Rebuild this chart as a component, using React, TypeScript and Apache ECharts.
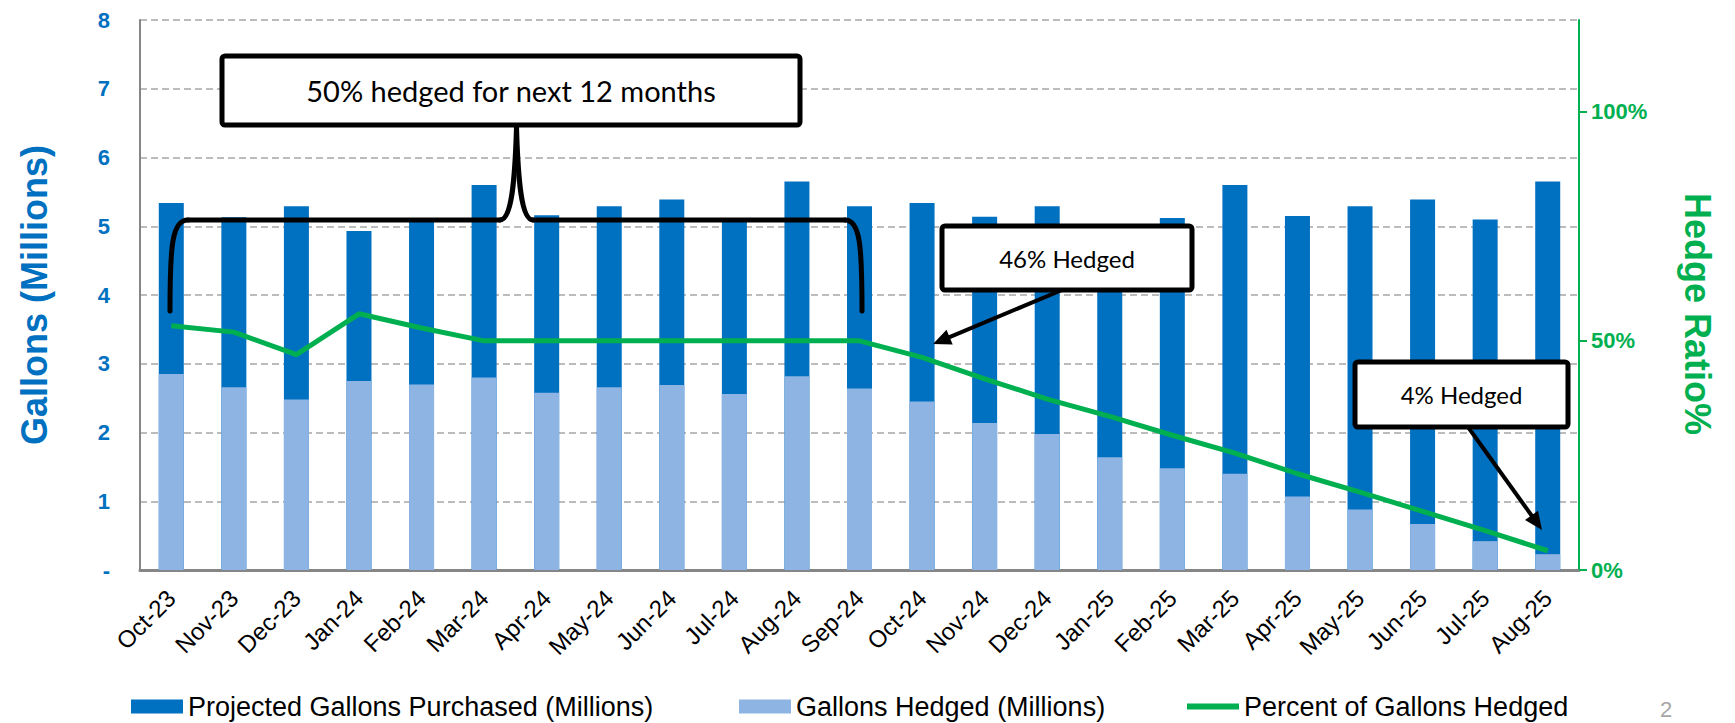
import { useEffect, useRef } from 'react';
import * as echarts from 'echarts';

const categories = [
  'Oct-23', 'Nov-23', 'Dec-23', 'Jan-24', 'Feb-24', 'Mar-24', 'Apr-24', 'May-24', 'Jun-24', 'Jul-24', 'Aug-24', 'Sep-24',
  'Oct-24', 'Nov-24', 'Dec-24', 'Jan-25', 'Feb-25', 'Mar-25', 'Apr-25', 'May-25', 'Jun-25', 'Jul-25', 'Aug-25',
];
const projectedGallons = [
  5.34, 5.13, 5.29, 4.93, 5.12, 5.6, 5.16, 5.29, 5.39, 5.1, 5.65, 5.29,
  5.34, 5.14, 5.29, 4.93, 5.12, 5.6, 5.15, 5.29, 5.39, 5.1, 5.65,
];
const hedgedGallons = [
  2.85, 2.66, 2.48, 2.75, 2.7, 2.8, 2.58, 2.66, 2.69, 2.56, 2.82, 2.64,
  2.45, 2.14, 1.98, 1.64, 1.48, 1.4, 1.07, 0.88, 0.67, 0.42, 0.23,
];
const percentHedged = [
  0.533, 0.519, 0.47, 0.559, 0.528, 0.5, 0.5, 0.5, 0.5, 0.5, 0.5, 0.5,
  0.464, 0.417, 0.373, 0.335, 0.294, 0.255, 0.21, 0.17, 0.128, 0.086, 0.042,
];
const leftTicks = [0, 1, 2, 3, 4, 5, 6, 7, 8];
const rightTicks = [0, 0.5, 1];

const SERIES_NAMES = [
  'Projected Gallons Purchased (Millions)',
  'Gallons Hedged (Millions)',
  'Percent of Gallons Hedged',
];

const DARK = '#0070C0';
const LIGHT = '#8EB4E3';
const GREEN = '#00B050';
const AXIS_GRAY = '#868686';
const ARIAL = '"Liberation Sans", Arial, sans-serif';
const CALLOUT_FONT = 'Lato, "Open Sans", sans-serif';

function arrow(x1: number, y1: number, x2: number, y2: number, head = 18, half = 8) {
  const dx = x2 - x1;
  const dy = y2 - y1;
  const len = Math.hypot(dx, dy);
  const ux = dx / len;
  const uy = dy / len;
  const bx = x2 - ux * head;
  const by = y2 - uy * head;
  return [
    {
      type: 'line',
      z: 100,
      shape: { x1, y1, x2: bx + ux * 2, y2: by + uy * 2 },
      style: { stroke: '#000', lineWidth: 4 },
    },
    {
      type: 'polygon',
      z: 100,
      shape: {
        points: [
          [x2, y2],
          [bx - uy * half, by + ux * half],
          [bx + uy * half, by - ux * half],
        ],
      },
      style: { fill: '#000' },
    },
  ];
}

function callout(x: number, y: number, w: number, h: number, text: string, size: number) {
  return [
    {
      type: 'rect',
      z: 101,
      shape: { x, y, width: w, height: h, r: 3 },
      style: { fill: '#fff', stroke: '#000', lineWidth: 5 },
    },
    {
      type: 'text',
      z: 102,
      x: x + w / 2,
      y: y + h / 2,
      style: {
        text,
        fill: '#000',
        fontSize: size,
        fontFamily: CALLOUT_FONT,
        align: 'center',
        verticalAlign: 'middle',
        textAlign: 'center',
        textVerticalAlign: 'middle',
      },
    },
  ];
}

const braceStyle = { stroke: '#000', lineWidth: 5, fill: null, lineCap: 'round', lineJoin: 'round' };
const brace = [
  { type: 'bezierCurve', z: 100, shape: { x1: 170, y1: 311, cpx1: 170, cpy1: 245, cpx2: 172, cpy2: 220, x2: 188, y2: 220 }, style: braceStyle },
  { type: 'line', z: 100, shape: { x1: 188, y1: 220, x2: 500, y2: 220 }, style: braceStyle },
  { type: 'bezierCurve', z: 100, shape: { x1: 500, y1: 220, cpx1: 512, cpy1: 220, cpx2: 515, cpy2: 180, x2: 516.5, y2: 126 }, style: braceStyle },
  { type: 'bezierCurve', z: 100, shape: { x1: 516.5, y1: 126, cpx1: 518, cpy1: 180, cpx2: 521, cpy2: 220, x2: 533, y2: 220 }, style: braceStyle },
  { type: 'line', z: 100, shape: { x1: 533, y1: 220, x2: 845, y2: 220 }, style: braceStyle },
  { type: 'bezierCurve', z: 100, shape: { x1: 845, y1: 220, cpx1: 860, cpy1: 220, cpx2: 862, cpy2: 245, x2: 862, y2: 311 }, style: braceStyle },
];

function legendFor(name: string, left: number, icon: string) {
  return {
    data: [{ name, icon }],
    left,
    top: 693,
    padding: 0,
    itemWidth: 52,
    itemHeight: 14,
    itemGap: 0,
    selectedMode: false,
    textStyle: { fontSize: 27, fontFamily: ARIAL, color: '#000' },
  };
}

export default function App() {
  const ref = useRef<HTMLDivElement>(null);

  useEffect(() => {
    document.body.style.margin = '0';
    const chart = echarts.init(ref.current!, null, { renderer: 'svg' });
    const option: any = {
      animation: false,
      backgroundColor: '#fff',
      grid: { left: 140, right: 156, top: 20, bottom: 153 },
      legend: [
        legendFor(SERIES_NAMES[0], 131, 'rect'),
        legendFor(SERIES_NAMES[1], 739, 'rect'),
        legendFor(SERIES_NAMES[2], 1187, 'path://M0,0L52,0L52,6L0,6Z'),
      ],
      xAxis: {
        type: 'category',
        data: categories,
        boundaryGap: true,
        axisLine: { show: true, lineStyle: { color: AXIS_GRAY, width: 3 } },
        axisTick: { show: false },
        axisLabel: {
          rotate: 45,
          interval: 0,
          margin: 24,
          fontSize: 24,
          fontFamily: ARIAL,
          color: '#000',
        },
      },
      yAxis: [
        {
          type: 'value',
          min: leftTicks[0],
          max: leftTicks[leftTicks.length - 1],
          interval: 1,
          name: 'Gallons (Millions)',
          nameLocation: 'middle',
          nameGap: 88,
          nameRotate: 90,
          nameTextStyle: { fontSize: 36, fontWeight: 'bold', fontFamily: ARIAL, color: DARK },
          axisLine: { show: true, lineStyle: { color: AXIS_GRAY, width: 2 } },
          axisTick: { show: false },
          axisLabel: {
            margin: 30,
            fontSize: 22,
            fontWeight: 'bold',
            fontFamily: ARIAL,
            color: DARK,
            formatter: (v: number) => (v === 0 ? '-' : String(v)),
          },
          splitLine: { show: true, lineStyle: { color: '#A6A6A6', width: 1.5, type: [7, 4] } },
        },
        {
          type: 'value',
          position: 'right',
          min: 0,
          max: 1.2,
          interval: 0.5,
          name: 'Hedge Ratio%',
          nameLocation: 'middle',
          nameGap: 100,
          nameRotate: -90,
          nameTextStyle: {
            fontSize: 36,
            fontWeight: 'bold',
            fontFamily: ARIAL,
            color: GREEN,
            padding: [0, 0, 0, 38],
          },
          axisLine: { show: true, lineStyle: { color: GREEN, width: 2 } },
          axisTick: { show: true, inside: false, length: 8, lineStyle: { color: GREEN, width: 2 }, customValues: rightTicks },
          axisLabel: {
            margin: 12,
            fontSize: 22,
            fontWeight: 'bold',
            fontFamily: ARIAL,
            color: GREEN,
            customValues: rightTicks,
            formatter: (v: number) => (v > 1.0001 ? '' : Math.round(v * 100) + '%'),
          },
          splitLine: { show: false },
        },
      ],
      series: [
        {
          name: SERIES_NAMES[0],
          type: 'bar',
          data: projectedGallons,
          barWidth: 25,
          barGap: '-100%',
          itemStyle: { color: DARK },
          z: 2,
        },
        {
          name: SERIES_NAMES[1],
          type: 'bar',
          data: hedgedGallons,
          barWidth: 25,
          barGap: '-100%',
          itemStyle: { color: LIGHT },
          z: 3,
        },
        {
          name: SERIES_NAMES[2],
          type: 'line',
          yAxisIndex: 1,
          data: percentHedged,
          symbol: 'none',
          lineStyle: { color: GREEN, width: 5 },
          itemStyle: { color: GREEN },
          z: 5,
        },
      ],
      graphic: [
        ...brace,
        ...callout(222, 56, 578, 69, '50% hedged for next 12 months', 29),
        ...arrow(1062, 290, 933, 344),
        ...callout(942, 226, 250, 64, '46% Hedged', 24),
        ...arrow(1468, 427, 1542, 530),
        ...callout(1355, 362, 213, 65, '4% Hedged', 24),
        {
          type: 'text',
          z: 100,
          x: 1660,
          y: 698,
          style: { text: '2', fill: '#A6A6A6', fontSize: 22, fontFamily: ARIAL },
        },
      ],
    };
    chart.setOption(option);
    return () => chart.dispose();
  }, []);

  return <div ref={ref} style={{ width: 1735, height: 723 }} />;
}
